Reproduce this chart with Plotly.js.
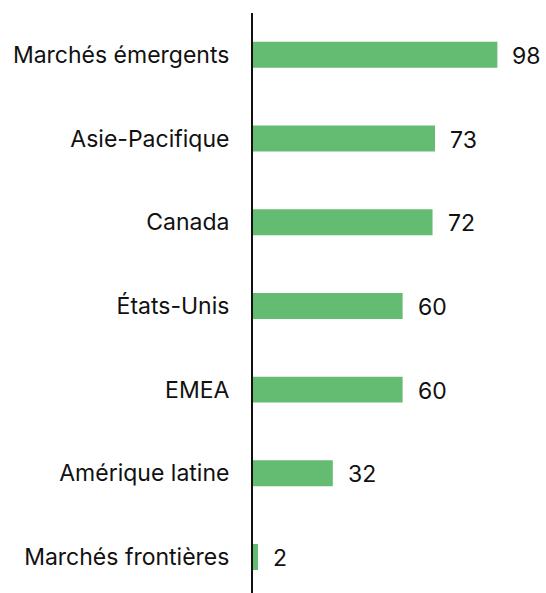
<!DOCTYPE html>
<html>
<head>
<meta charset="utf-8">
<script src="https://cdn.plot.ly/plotly-3.0.1.min.js"></script>
<style>html,body{margin:0;padding:0;background:#fff;}</style>
</head>
<body>
<div id="chart" style="width:546px;height:593px;"></div>
<script>
const categories = ["Marchés émergents", "Asie-Pacifique", "Canada", "États-Unis", "EMEA", "Amérique latine", "Marchés frontières"];
const values = [98, 73, 72, 60, 60, 32, 2];

const FONT = "Inter, 'Noto Sans', sans-serif";

const trace = {
  type: "bar",
  orientation: "h",
  x: values,
  y: categories,
  marker: {color: "#64bc72"},
  width: 0.31,
  hoverinfo: "none"
};

const annotations = categories.map((c, i) => ({
  x: values[i], y: c, xref: "x", yref: "y",
  text: String(values[i]), showarrow: false,
  xanchor: "left", yanchor: "middle", xshift: 13, yshift: -1,
  font: {family: FONT, size: 23, color: "#111"}
}));

const layout = {
  width: 546, height: 593,
  margin: {l: 253, r: 0, t: 13, b: 0},
  paper_bgcolor: "#fff", plot_bgcolor: "#fff",
  showlegend: false,
  xaxis: {range: [0, 117.5], showgrid: false, zeroline: false, showticklabels: false, showline: false, fixedrange: true},
  yaxis: {
    type: "category", categoryorder: "array", categoryarray: categories,
    range: [6.43, -0.5], autorange: false,
    showgrid: false, zeroline: false, showline: true, linecolor: "#111", linewidth: 2,
    ticks: "", ticklabelstandoff: 17,
    tickfont: {family: FONT, size: 23, color: "#111"}
  },
  annotations: annotations
};

Plotly.newPlot("chart", [trace], layout, {displayModeBar: false, staticPlot: true});
</script>
</body>
</html>
